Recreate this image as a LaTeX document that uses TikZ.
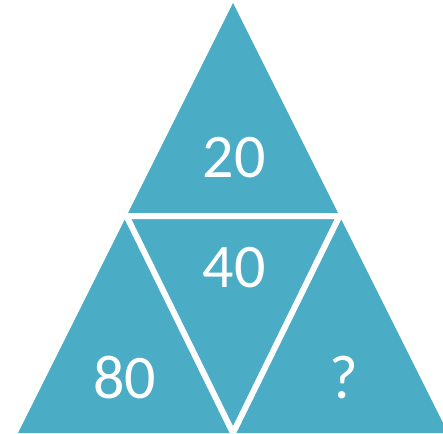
\documentclass[tikz,border=0pt]{standalone}
\usepackage{fontspec}
\setmainfont{Carlito}
\definecolor{aqua}{HTML}{4BACC6}

\begin{document}
\begin{tikzpicture}[x=1pt, y=-1pt]
\useasboundingbox (0,0) rectangle (443,433);
\coordinate (top) at (233,3);
\coordinate (bl) at (18,433);
\coordinate (br) at (448,433);
\coordinate (ml) at (126.5,216);
\coordinate (mr) at (339.5,216);
\coordinate (mb) at (233,433);
\fill[aqua] (top) -- (bl) -- (br) -- cycle;
\draw[white, line width=6pt] (ml) -- (mr) -- (mb) -- cycle;
\node (20) [anchor=base, text=white, font=\fontsize{62}{62}\selectfont, inner sep=0pt] at (234,177) {20};
\node (40) [anchor=base, text=white, font=\fontsize{62}{62}\selectfont, inner sep=0pt] at (234,287) {40};
\node (80) [anchor=base, text=white, font=\fontsize{62}{62}\selectfont, inner sep=0pt] at (124.5,398) {80};
\node (q) [anchor=base, text=white, font=\fontsize{62}{62}\selectfont, inner sep=0pt] at (344,398) {?};
\end{tikzpicture}
\end{document}
